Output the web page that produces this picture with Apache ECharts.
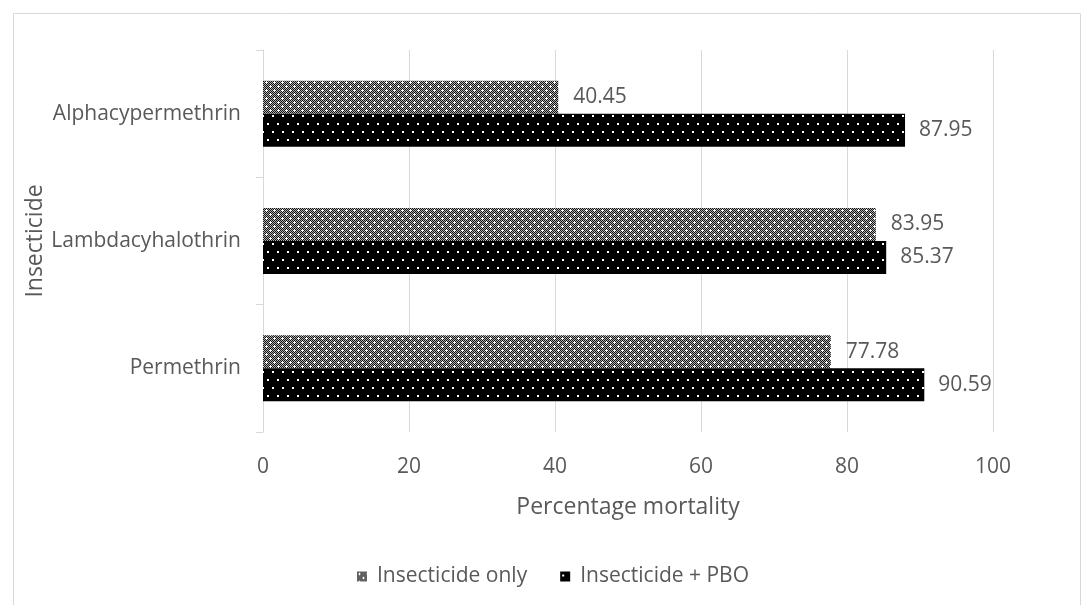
<!DOCTYPE html>
<html><head><meta charset="utf-8">
<script src="https://cdn.jsdelivr.net/npm/echarts@6/dist/echarts.min.js"></script>
<style>html,body{margin:0;padding:0;background:#fff}#c{width:1084px;height:605px}</style>
</head><body><div id="c"></div>
<script>
var categories = ['Permethrin', 'Lambdacyhalothrin', 'Alphacypermethrin'];
var insecticideOnly = [77.78, 83.95, 40.45];
var insecticidePBO = [90.59, 85.37, 87.95];
var xTicks = [0, 20, 40, 60, 80, 100];

function grayPattern() {
  var c = document.createElement('canvas'); c.width = 8; c.height = 8;
  var g = c.getContext('2d');
  g.fillStyle = '#b0b0b0'; g.fillRect(0, 0, 8, 8);
  g.fillStyle = '#111';
  for (var y = 0; y < 8; y++) for (var x = 0; x < 8; x++) if ((x + y) % 2 === 0) g.fillRect(x, y, 1, 1);
  g.fillStyle = '#fff';
  g.fillRect(1, 2, 3, 1); g.fillRect(2, 1, 1, 3);
  g.fillRect(5, 6, 3, 1); g.fillRect(6, 5, 1, 3);
  return c;
}
function blackPattern() {
  var c = document.createElement('canvas'); c.width = 10; c.height = 16;
  var g = c.getContext('2d');
  g.fillStyle = '#000'; g.fillRect(0, 0, 10, 16);
  g.fillStyle = '#fff';
  g.fillRect(2, 3, 2, 2); g.fillRect(7, 11, 2, 2);
  return c;
}
var gp = {image: grayPattern(), repeat: 'repeat'};
var bp = {image: blackPattern(), repeat: 'repeat'};
var font = '"Open Sans", "Noto Sans", sans-serif';
var txt = '#595959';

var chart = echarts.init(document.getElementById('c'));
chart.setOption({
  animation: false,
  textStyle: {fontFamily: font},
  graphic: [{type: 'rect', shape: {x: 13.5, y: 13.5, width: 1067, height: 600}, style: {fill: 'none', stroke: '#d9d9d9', lineWidth: 1}}],
  grid: {left: 263, right: 91, top: 50, bottom: 173},
  legend: {
    data: ['Insecticide only', 'Insecticide + PBO'],
    bottom: 13, left: 352, itemWidth: 10, itemHeight: 10, itemGap: 33, icon: 'rect',
    textStyle: {color: txt, fontSize: 21, fontFamily: font, padding: [0, 0, 0, 5]}
  },
  xAxis: {
    type: 'value', min: 0, max: 100, interval: 20,
    name: 'Percentage mortality', nameLocation: 'middle', nameGap: 64,
    nameTextStyle: {color: txt, fontSize: 23, fontFamily: font},
    axisLine: {show: false}, axisTick: {show: false},
    axisLabel: {color: txt, fontSize: 21, margin: 25, fontFamily: font,
      formatter: function (v) { return xTicks.indexOf(v) >= 0 ? String(v) : ''; }},
    splitLine: {show: true, lineStyle: {color: '#d9d9d9', width: 1}}
  },
  yAxis: {
    type: 'category', data: categories,
    name: 'Insecticide', nameLocation: 'middle', nameGap: 216, nameRotate: 90, nameMoveOverlap: false,
    nameTextStyle: {color: txt, fontSize: 23, fontFamily: font},
    axisLine: {show: true, lineStyle: {color: '#d9d9d9'}},
    axisTick: {show: true, length: 7, lineStyle: {color: '#d9d9d9'}},
    axisLabel: {color: txt, fontSize: 21, margin: 22, fontFamily: font}
  },
  series: [
    {name: 'Insecticide only', type: 'bar', data: insecticideOnly, barWidth: 33, barGap: '0%',
      itemStyle: {color: gp},
      label: {show: true, position: 'right', distance: 15, color: txt, fontSize: 21, fontFamily: font}},
    {name: 'Insecticide + PBO', type: 'bar', data: insecticidePBO, barWidth: 33, barGap: '0%',
      itemStyle: {color: bp},
      label: {show: true, position: 'right', distance: 14, color: txt, fontSize: 21, fontFamily: font}}
  ]
});
</script></body></html>
